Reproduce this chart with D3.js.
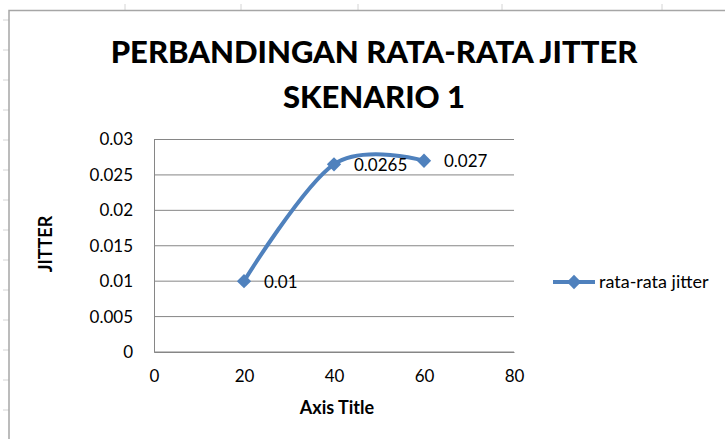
<!DOCTYPE html>
<html>
<head>
<meta charset="utf-8">
<script src="https://cdnjs.cloudflare.com/ajax/libs/d3/7.8.5/d3.min.js"></script>
<style>
  body { margin: 0; background: #fff; }
  text { font-family: Lato, "Open Sans", sans-serif; fill: #000; }
</style>
</head>
<body>
<svg id="chart" width="725" height="439"></svg>
<script>
// data
const xValues = [20, 40, 60];
const jitter = [0.01, 0.0265, 0.027];
const dataLabels = ["0.01", "0.0265", "0.027"];
const yTicks = [0, 0.005, 0.01, 0.015, 0.02, 0.025, 0.03];
const xTicks = [0, 20, 40, 60, 80];
const seriesName = "rata-rata jitter";

const svg = d3.select("#chart");
const blue = "#4f81bd";

// spreadsheet cell marks behind the chart
const colMarks = [125, 241, 358, 502, 662];
svg.selectAll(".colmark").data(colMarks).join("line")
  .attr("x1", d => d).attr("x2", d => d).attr("y1", 4).attr("y2", 10)
  .attr("stroke", "#d4d4d4");
const rowMarks = d3.range(20, 439, 30);
svg.selectAll(".rowmark").data(rowMarks).join("line")
  .attr("x1", 3).attr("x2", 9).attr("y1", d => d).attr("y2", d => d)
  .attr("stroke", "#d4d4d4");

// chart frame
svg.append("rect")
  .attr("x", 9).attr("y", 10.5).attr("width", 740).attr("height", 460)
  .attr("fill", "#fff").attr("stroke", "#a6a6a6").attr("stroke-width", 1.5);

// title
svg.append("text").attr("x", 374).attr("y", 63).attr("text-anchor", "middle")
  .attr("font-weight", "900").attr("font-size", 31)
  .text("PERBANDINGAN RATA-RATA JITTER");
svg.append("text").attr("x", 374).attr("y", 108).attr("text-anchor", "middle")
  .attr("font-weight", "900").attr("font-size", 31)
  .text("SKENARIO 1");

const x = d3.scaleLinear().domain([0, 80]).range([154, 514]);
const y = d3.scaleLinear().domain([0, 0.03]).range([352, 139.5]);

// gridlines
svg.append("g").selectAll("line").data(yTicks).join("line")
  .attr("x1", x(0)).attr("x2", x(80))
  .attr("y1", d => y(d)).attr("y2", d => y(d))
  .attr("stroke", "#868686").attr("stroke-width", 1);

// y axis
const yAxis = svg.append("g").attr("transform", `translate(${x(0)},0)`)
  .call(d3.axisLeft(y).tickValues(yTicks).tickSize(0).tickPadding(21)
    .tickFormat(d => d3.format("")(+d.toFixed(3))));
yAxis.select(".domain").attr("stroke", "#868686");
yAxis.selectAll("text").attr("font-size", 17).attr("font-family", "Lato, sans-serif");

// x axis
const xAxis = svg.append("g").attr("transform", `translate(0,${y(0)})`)
  .call(d3.axisBottom(x).tickValues(xTicks).tickSize(0).tickPadding(18));
xAxis.select(".domain").attr("stroke", "#868686");
xAxis.selectAll("text").attr("font-size", 17).attr("font-family", "Lato, sans-serif");

// axis titles
svg.append("text").attr("x", 337).attr("y", 414).attr("text-anchor", "middle")
  .attr("font-weight", "bold").attr("font-size", 18).text("Axis Title");
svg.append("text").attr("transform", "translate(52,244) rotate(-90)")
  .attr("text-anchor", "middle").attr("font-weight", "bold").attr("font-size", 18)
  .text("JITTER");

// series
const pts = xValues.map((d, i) => ({ x: d, y: jitter[i], label: dataLabels[i] }));
const line = d3.line().x(d => x(d.x)).y(d => y(d.y)).curve(d3.curveCardinal.tension(0));
svg.append("path").datum(pts).attr("d", line)
  .attr("fill", "none").attr("stroke", blue).attr("stroke-width", 4);

const diamond = d3.symbol().type(d3.symbolDiamond2).size(130);
svg.selectAll(".pt").data(pts).join("path")
  .attr("transform", d => `translate(${x(d.x)},${y(d.y)})`)
  .attr("d", diamond).attr("fill", blue);

svg.selectAll(".lbl").data(pts).join("text")
  .attr("x", d => x(d.x) + 20).attr("y", d => y(d.y) + 6.5)
  .attr("font-size", 17).text(d => d.label);

// legend
const lg = svg.append("g").attr("transform", "translate(553,282)");
lg.append("line").attr("x1", 0).attr("x2", 42).attr("stroke", blue).attr("stroke-width", 4);
lg.append("path").attr("transform", "translate(21,0)").attr("d", diamond).attr("fill", blue);
lg.append("text").attr("x", 46).attr("y", 6).attr("font-size", 18).text(seriesName);
</script>
</body>
</html>
